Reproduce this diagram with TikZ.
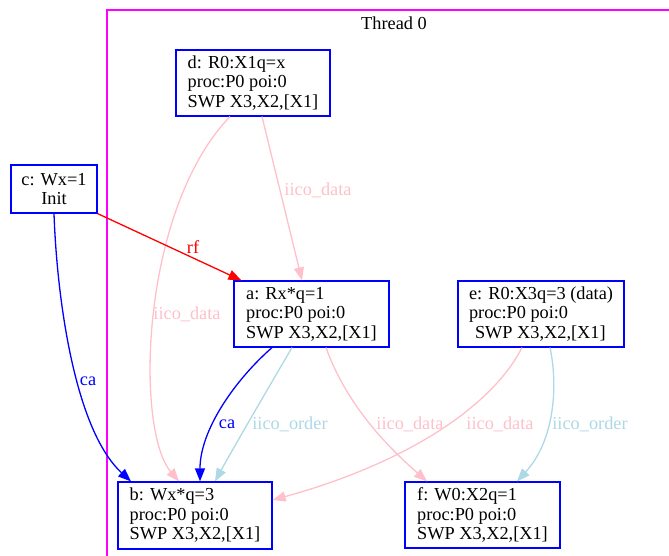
\documentclass[tikz,border=0pt]{standalone}
\usepackage{fontspec}
\setmainfont{Liberation Serif}
\usetikzlibrary{arrows.meta}
\definecolor{gvpink}{HTML}{FFC0CB}
\definecolor{gvlblue}{HTML}{ADD8E6}
\definecolor{gvblue}{HTML}{0000FF}
\definecolor{gvred}{HTML}{FF0000}
\definecolor{gvmag}{HTML}{FF00FF}
\begin{document}
\begin{tikzpicture}[x=1pt,y=-1pt,
  font=\fontsize{18.3}{19.5}\selectfont,
  ev/.style={draw=gvblue, line width=1.2pt, fill=white, inner sep=0pt, align=left},
  conn/.style={line width=1.3pt, -{Triangle[length=13pt,width=10pt]}},
  lbl/.style={inner sep=0pt},
  pinkc/.style={conn, draw=gvpink},
  lbluec/.style={conn, draw=gvlblue},
  bluec/.style={conn, draw=gvblue},
  redc/.style={conn, draw=gvred}]
\useasboundingbox (0,0) rectangle (669,556);
\clip (0,0) rectangle (669,556);
% cluster
\draw[draw=gvmag, line width=1.2pt] (107,10) rectangle (720,620);
\node[lbl] (thr) at (394,23) {Thread 0};
% nodes
\node[ev, align=center, minimum width=86pt, minimum height=48pt] (c) at (54,189) {c: Wx=1\\Init};
\node[ev, minimum width=154pt, minimum height=66pt] (d) at (253,83) {d: R0:X1q=x\\proc:P0 poi:0\\SWP X3,X2,[X1]};
\node[ev, minimum width=155pt, minimum height=66pt] (a) at (311.5,314) {a: Rx*q=1\\proc:P0 poi:0\\SWP X3,X2,[X1]};
\node[ev, minimum width=166pt, minimum height=66pt] (e) at (541,314) {e: R0:X3q=3 (data)\\proc:P0 poi:0\\\hspace*{6pt}SWP X3,X2,[X1]};
\node[ev, minimum width=154pt, minimum height=67pt] (b) at (195,515.5) {b: Wx*q=3\\proc:P0 poi:0\\SWP X3,X2,[X1]};
\node[ev, minimum width=155pt, minimum height=66pt] (f) at (482.5,515) {f: W0:X2q=1\\proc:P0 poi:0\\SWP X3,X2,[X1]};
% connectors
\draw[pinkc] ([xshift=-23pt]d.south) .. controls (140,210) and (135,430) .. ([xshift=-16pt]b.north);
\draw[pinkc] ([xshift=9pt]d.south) -- ([xshift=-9.5pt]a.north);
\draw[redc] (c.south east) -- ([xshift=8pt]a.north west);
\draw[bluec] (c.south) .. controls (57,300) and (75,430) .. ([xshift=-64pt]b.north);
\draw[bluec] ([xshift=-39.5pt]a.south) .. controls (235,380) and (200,430) .. ([xshift=5pt]b.north);
\draw[lbluec] ([xshift=-19.5pt]a.south) .. controls (270,385) and (235,445) .. ([xshift=20pt]b.north);
\draw[pinkc] ([xshift=14.5pt]a.south) .. controls (345,400) and (380,440) .. ([xshift=-55.5pt]f.north);
\draw[pinkc] ([xshift=-19pt]e.south) .. controls (490,410) and (400,465) .. ([yshift=15.5pt]b.east);
\draw[lbluec] ([xshift=9pt]e.south) .. controls (558,385) and (555,440) .. ([xshift=34.5pt]f.north);
% labels
\node[lbl, text=gvpink] (l1) at (187,314) {iico\_data};
\node[lbl, text=gvpink] (l2) at (318,190) {iico\_data};
\node[lbl, text=gvred] (l3) at (193,247) {rf};
\node[lbl, text=gvblue] (l4) at (88,381) {ca};
\node[lbl, text=gvblue] (l5) at (227,424) {ca};
\node[lbl, text=gvlblue] (l6) at (290,424) {iico\_order};
\node[lbl, text=gvpink] (l7) at (410,424) {iico\_data};
\node[lbl, text=gvpink] (l8) at (500,424) {iico\_data};
\node[lbl, text=gvlblue] (l9) at (590,424) {iico\_order};
\end{tikzpicture}
\end{document}
